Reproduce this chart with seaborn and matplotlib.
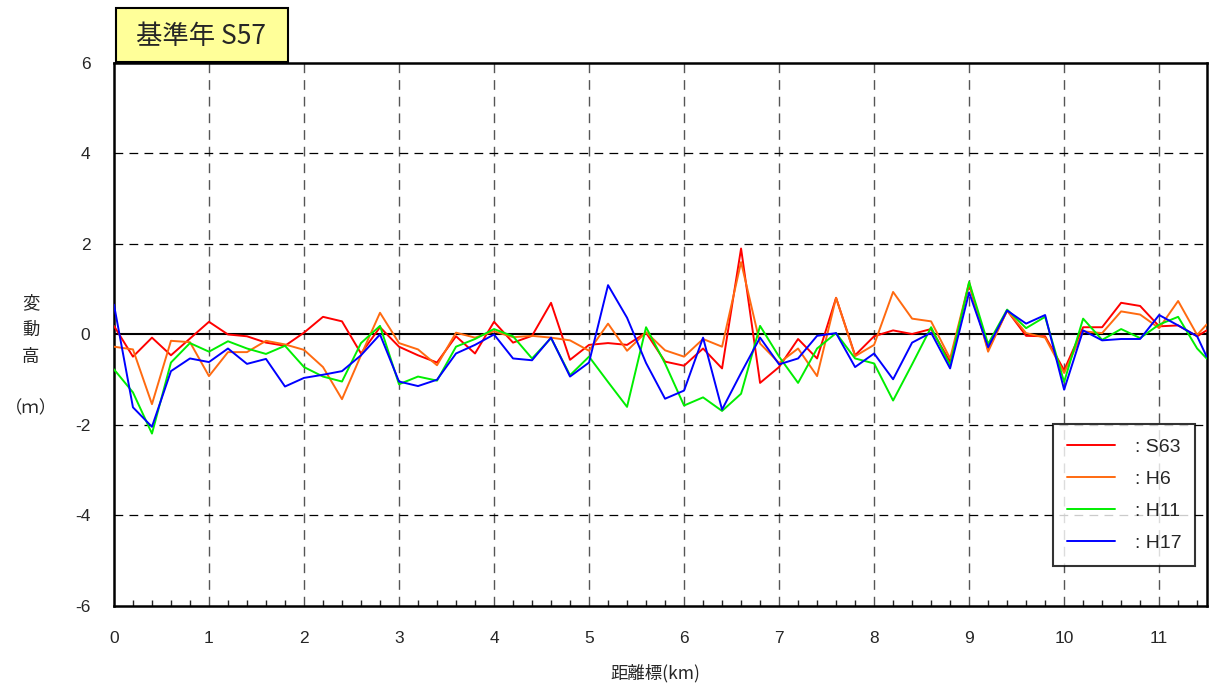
import pandas as pd
import numpy as np
import matplotlib
matplotlib.use('Agg')
import matplotlib.pyplot as plt
import matplotlib.patches as patches
from matplotlib.ticker import MultipleLocator
import seaborn as sns

# 距離標 (km)
km = [0.0, 0.2, 0.4, 0.6, 0.8, 1.0, 1.2, 1.4, 1.6, 1.8,
      2.0, 2.2, 2.4, 2.6, 2.8, 3.0, 3.2, 3.4, 3.6, 3.8,
      4.0, 4.2, 4.4, 4.6, 4.8, 5.0, 5.2, 5.4, 5.6, 5.8,
      6.0, 6.2, 6.4, 6.6, 6.8, 7.0, 7.2, 7.4, 7.6, 7.8,
      8.0, 8.2, 8.4, 8.6, 8.8, 9.0, 9.2, 9.4, 9.6, 9.8,
      10.0, 10.2, 10.4, 10.6, 10.8, 11.0, 11.2, 11.4, 11.5]

# 変動高 (m) 基準年 S57
s63 = [0.19, -0.49, -0.07, -0.46, -0.09, 0.28, 0.00, -0.04, -0.18, -0.25,
       0.04, 0.39, 0.29, -0.42, 0.16, -0.27, -0.46, -0.62, -0.04, -0.42,
       0.28, -0.18, -0.03, 0.70, -0.56, -0.23, -0.19, -0.23, 0.04, -0.60,
       -0.69, -0.31, -0.75, 1.90, -1.07, -0.72, -0.10, -0.53, 0.81, -0.46,
       -0.04, 0.09, 0.01, 0.12, -0.60, 1.11, -0.34, 0.53, -0.03, -0.04,
       -0.79, 0.16, 0.16, 0.70, 0.63, 0.18, 0.20, -0.04, 0.09]
h6 = [-0.27, -0.33, -1.54, -0.14, -0.17, -0.92, -0.39, -0.39, -0.14, -0.22,
      -0.34, -0.72, -1.43, -0.46, 0.48, -0.19, -0.33, -0.68, 0.04, -0.07,
      0.07, -0.06, -0.03, -0.07, -0.13, -0.36, 0.24, -0.36, 0.05, -0.35,
      -0.49, -0.10, -0.27, 1.60, -0.20, -0.63, -0.31, -0.92, 0.81, -0.48,
      -0.23, 0.94, 0.35, 0.29, -0.53, 1.15, -0.38, 0.53, 0.03, -0.07,
      -0.85, 0.07, 0.03, 0.51, 0.44, 0.14, 0.74, -0.01, 0.22]
h11 = [-0.77, -1.28, -2.19, -0.62, -0.19, -0.38, -0.15, -0.31, -0.43, -0.25,
       -0.72, -0.93, -1.04, -0.19, 0.19, -1.10, -0.93, -1.02, -0.27, -0.10,
       0.12, -0.04, -0.53, -0.08, -0.90, -0.49, -1.05, -1.60, 0.16, -0.64,
       -1.57, -1.39, -1.69, -1.31, 0.19, -0.49, -1.07, -0.31, 0.03, -0.53,
       -0.64, -1.46, -0.66, 0.16, -0.68, 1.16, -0.21, 0.55, 0.14, 0.39,
       -1.05, 0.35, -0.12, 0.12, -0.08, 0.22, 0.39, -0.31, -0.53]
h17 = [0.66, -1.61, -2.04, -0.81, -0.53, -0.61, -0.31, -0.65, -0.54, -1.15,
       -0.96, -0.89, -0.81, -0.46, 0.00, -1.04, -1.14, -1.00, -0.42, -0.23,
       0.00, -0.53, -0.57, -0.07, -0.93, -0.62, 1.09, 0.37, -0.63, -1.42,
       -1.24, -0.07, -1.66, -0.85, -0.07, -0.66, -0.53, -0.03, 0.03, -0.72,
       -0.42, -0.99, -0.18, 0.04, -0.75, 0.93, -0.28, 0.53, 0.24, 0.43,
       -1.22, 0.09, -0.13, -0.10, -0.10, 0.43, 0.20, -0.04, -0.49]

series = {'S63': s63, 'H6': h6, 'H11': h11, 'H17': h17}
colors = {'S63': '#FF0000', 'H6': '#FF6A10', 'H11': '#00EE00', 'H17': '#0000FF'}

df = pd.concat([pd.DataFrame({'km': km, '変動高': v, '年': k}) for k, v in series.items()],
               ignore_index=True)

sns.set_style('white')
plt.rcParams['font.family'] = ['Liberation Sans Narrow', 'Liberation Sans', 'DejaVu Sans']
plt.rcParams['axes.unicode_minus'] = False
jp = ['Noto Sans CJK JP', 'DejaVu Sans']

fig = plt.figure(figsize=(12.11, 6.89), dpi=100)
ax = fig.add_axes([0.0941, 0.1205, 0.9023, 0.7881])

# グリッド
for xv in range(1, 12):
    ax.axvline(xv, color='#555555', lw=1.0, ls=(0, (7, 5)), zorder=1)
for yv in [-4, -2, 2, 4]:
    ax.axhline(yv, color='black', lw=0.9, ls=(0, (7, 5)), zorder=1)
ax.axhline(0, color='black', lw=1.5, zorder=2)

sns.lineplot(data=df, x='km', y='変動高', hue='年', palette=colors,
             estimator=None, sort=False, lw=1.4, ax=ax, zorder=3)

ax.set_xlim(0, 11.5)
ax.set_ylim(-6, 6)
ax.xaxis.set_major_locator(MultipleLocator(1))
ax.xaxis.set_minor_locator(MultipleLocator(0.2))
ax.yaxis.set_major_locator(MultipleLocator(2))
ax.tick_params(axis='x', which='major', direction='in', length=8, width=1, pad=18, labelsize=12.5)
ax.tick_params(axis='x', which='minor', direction='in', length=4, width=1, bottom=True)
ax.tick_params(axis='y', which='major', direction='in', length=0, pad=17, labelsize=12.5)
ax.set_xlabel('')
ax.set_ylabel('')
for sp in ax.spines.values():
    sp.set_visible(True)
    sp.set_color('black')
    sp.set_linewidth(1.8)

# 軸ラベル
fig.text(655 / 1211, 1 - 673 / 689, '距離標(km)', ha='center', va='center', fontsize=12.5, family=jp)
for ch, ypx in [('変', 303), ('動', 330), ('高', 357), ('（ｍ）', 408)]:
    fig.text(31 / 1211, 1 - ypx / 689, ch, ha='center', va='center', fontsize=12.5, family=jp)

# 凡例
handles, labels = ax.get_legend_handles_labels()
leg = ax.legend(handles, [': ' + l for l in labels], loc='lower left',
                bbox_to_anchor=(0.8595, 0.074), frameon=True, fancybox=False,
                edgecolor='black', fontsize=14, handlelength=2.5, handletextpad=1.0,
                labelspacing=0.75, borderpad=0.7, borderaxespad=0)
leg.get_frame().set_linewidth(1.5)

# タイトル枠
fig.patches.append(patches.Rectangle((116 / 1211, 1 - 62 / 689), 172 / 1211, 54 / 689,
                                     transform=fig.transFigure, facecolor='#FFFF99',
                                     edgecolor='black', lw=1.5, zorder=0))
fig.text(201 / 1211, 1 - 37 / 689, '基準年 S57', ha='center', va='center', fontsize=19, family=jp)

fig.savefig('out.png', dpi=100)
